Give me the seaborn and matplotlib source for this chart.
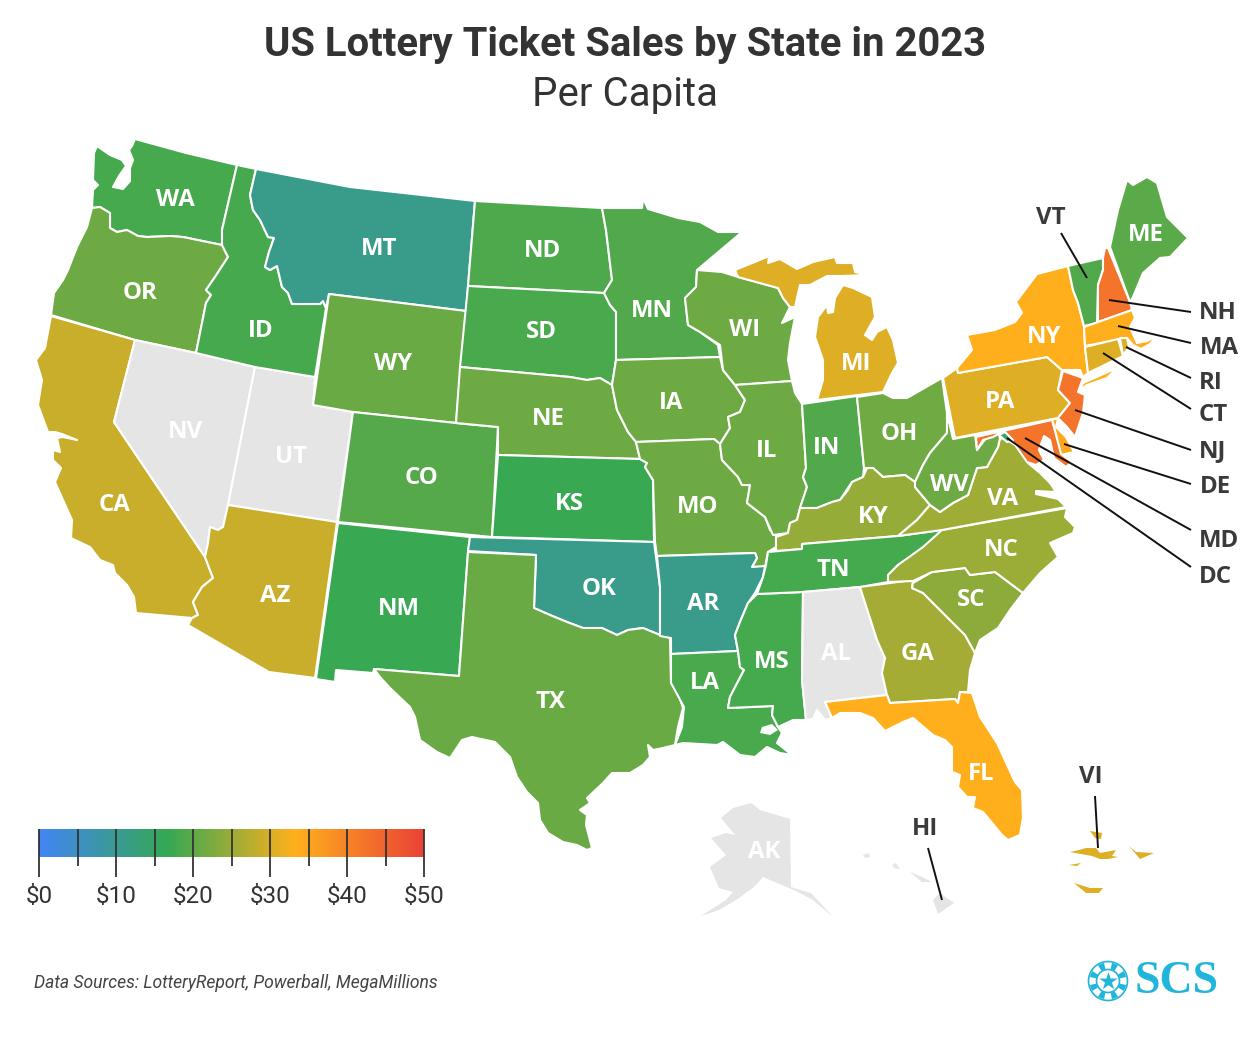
import numpy as np
import matplotlib
matplotlib.use("Agg")
import matplotlib.pyplot as plt
from matplotlib.patches import Polygon, Circle, Wedge
import seaborn as sns

sns.set_theme(style="white")
plt.rcParams['font.family'] = ['Roboto', 'DejaVu Sans']

# Per capita sales, read from the fill colours (nan = no data, drawn grey)
states = ["WA", "OR", "CA", "NV", "UT", "AZ", "ID", "MT", "WY", "CO", "NM", "ND", "SD", "NE", "KS", "OK", "TX",
          "MN", "IA", "MO", "AR", "LA", "WI", "IL", "MS", "MI", "IN", "OH", "KY", "TN", "AL", "GA", "FL", "SC",
          "NC", "VA", "WV", "PA", "NY", "VT", "NH", "ME", "MA", "CT", "RI", "NJ", "DE", "MD", "DC", "AK", "HI", "VI"]
sales = [18.2, 21.3, 28.8, np.nan, np.nan, 28.8, 18.2, 11, 21, 19.5, 17, 18.8, 18.5, 21.3, 17, 11, 21,
         19, 21.3, 21.3, 11, 18.5, 21.3, 21.3, 18, 30.5, 19, 21.5, 24.7, 18, np.nan, 25.8, 33.5, 24,
         25, 25.5, 21.3, 30.5, 33.5, 19, 42.4, 19.8, 33.5, 30.5, 30.5, 42.4, 34.5, 42.4, 14.5, np.nan, np.nan, 30.5]
scale_colors = ["#4285F4", "#34A853", "#FFB01C", "#EA4335"]
scale_ticks = [0, 5, 10, 15, 20, 25, 30, 35, 40, 45, 50]
scale_labels = {0: "$0", 10: "$10", 20: "$20", 30: "$30", 40: "$40", 50: "$50"}

# Outlines, in pixels
OUTLINES = {
    "WA": [[(135,139),(186,153),(237,165),(222,230),(222,245),(183,237),(170,236),(147,237),(138,236),(127,230),(117,232),(110,228),(110,213),(100,207),(92,208),(93,190),(98,185),(93,180),(94,153),(97,146),(110,155),(122,160),(126,166),(119,176),(113,187),(123,189),(130,181),(130,168),(133,160),(129,150),(132,146)]],
    "OR": [[(92,208),(100,207),(110,213),(110,228),(117,232),(127,230),(138,236),(147,237),(170,236),(183,237),(222,245),(228,257),(215,277),(206,290),(211,295),(206,303),(196,353),(135,340),(51,315),(54,293),(63,280),(68,270),(77,247),(87,227)]],
    "CA": [[(51,316),(135,340),(114,422),(205,557),(213,578),(202,587),(193,602),(198,615),(192,618),(136,613),(134,597),(127,585),(115,573),(113,565),(100,560),(90,547),(71,538),(72,520),(63,500),(55,482),(61,468),(53,460),(53,450),(60,452),(57,438),(63,437),(77,440),(62,434),(55,432),(48,432),(38,405),(42,380),(36,360),(45,348)]],
    "NV": [[(135,340),(196,353),(255,367),(228,505),(223,527),(218,530),(210,527),(208,543),(205,557),(114,422)]],
    "UT": [[(255,367),(315,377),(313,405),(353,412),(337,522),(228,505)]],
    "AZ": [[(228,505),(337,522),(315,678),(269,672),(188,625),(192,618),(198,615),(193,602),(202,587),(213,578),(205,557),(208,543),(210,527),(218,530),(223,527)]],
    "ID": [[(237,165),(256,169),(250,195),(253,210),(260,220),(268,237),(274,238),(269,252),(265,267),(270,270),(277,266),(282,287),(288,293),(292,304),(320,304),(323,301),(326,308),(315,377),(255,367),(196,353),(206,303),(211,295),(206,290),(215,277),(228,257),(222,245),(222,230)]],
    "MT": [[(256,169),(350,187),(475,201),(466,311),(329,294),(326,308),(323,301),(320,304),(292,304),(288,293),(282,287),(277,266),(270,270),(265,267),(269,252),(274,238),(268,237),(260,220),(253,210),(250,195)]],
    "WY": [[(329,294),(466,311),(456,423),(353,412),(313,405)]],
    "CO": [[(353,412),(456,423),(498,427),(492,537),(338,522)]],
    "NM": [[(338,523),(470,537),(468,552),(459,676),(374,669),(373,673),(336,670),(335,682),(316,679)]],
    "ND": [[(475,201),(602,208),(606,230),(612,280),(604,293),(468,286)]],
    "SD": [[(468,286),(604,293),(610,305),(616,312),(616,360),(612,385),(600,378),(587,380),(570,377),(460,367)]],
    "NE": [[(460,367),(570,377),(587,380),(600,378),(612,385),(617,410),(628,432),(636,442),(640,459),(498,455),(498,427),(456,423)]],
    "KS": [[(498,455),(640,459),(647,463),(645,467),(653,480),(654,542),(492,537)]],
    "OK": [[(470,537),(654,542),(660,587),(660,635),(643,628),(628,630),(617,635),(602,628),(583,628),(567,622),(550,615),(534,608),(536,555),(468,551)]],
    "TX": [[(468,552),(536,555),(534,608),(550,615),(567,622),(583,628),(602,628),(617,635),(628,630),(643,628),(660,635),(670,638),(671,682),(677,690),(683,708),(678,727),(675,745),(663,748),(653,750),(648,745),(650,757),(643,765),(630,773),(612,773),(603,783),(587,798),(590,803),(580,810),(587,815),(586,825),(592,848),(587,850),(577,845),(563,842),(548,833),(540,820),(538,803),(527,792),(517,777),(510,757),(495,742),(472,737),(462,740),(450,758),(437,752),(420,740),(415,717),(410,707),(390,688),(380,677),(374,669),(459,676)]],
    "MN": [[(602,208),(642,208),(643,198),(648,209),(678,218),(700,222),(718,232),(742,232),(697,270),(696,287),(685,298),(688,325),(700,332),(718,345),(720,357),(616,360),(616,312),(610,305),(604,293),(612,280),(606,230)]],
    "IA": [[(616,360),(720,357),(723,370),(735,385),(745,400),(740,412),(728,417),(730,428),(720,444),(714,439),(636,442),(628,432),(617,410),(612,385)]],
    "MO": [[(636,442),(714,439),(720,444),(722,460),(738,477),(742,485),(750,485),(747,503),(765,517),(770,530),(776,535),(776,547),(768,552),(765,567),(752,567),(757,558),(755,553),(657,556),(655,542),(653,480),(645,467),(647,463),(640,459)]],
    "AR": [[(657,556),(755,553),(757,558),(752,567),(765,566),(763,577),(755,593),(748,603),(740,622),(735,635),(738,651),(671,654),(671,638),(660,636),(660,587)]],
    "LA": [[(671,654),(738,651),(740,667),(744,670),(730,697),(728,708),(773,706),(772,715),(778,727),(782,733),(777,743),(792,755),(780,753),(767,747),(755,757),(740,755),(723,742),(717,745),(683,743),(675,745),(682,727),(684,707),(671,683)]],
    "WI": [[(697,270),(722,272),(738,277),(778,288),(783,298),(790,307),(782,323),(795,317),(790,343),(788,360),(792,381),(735,385),(723,370),(720,345),(700,332),(688,325),(685,298),(696,287)]],
    "IL": [[(735,385),(792,381),(795,393),(802,404),(806,468),(803,477),(807,487),(800,508),(797,520),(790,523),(788,533),(773,535),(765,517),(747,503),(750,485),(742,485),(738,477),(722,460),(720,444),(730,428),(728,417),(740,412),(745,400)]],
    "MS": [[(757,594),(803,592),(802,680),(806,720),(793,720),(778,727),(772,715),(773,706),(728,708),(730,697),(744,670),(740,667),(738,651),(735,635),(740,622),(748,603)]],
    "MI": [[(735,270),(767,257),(780,243),(770,252),(768,263),(780,259),(797,269),(813,262),(835,257),(837,263),(853,263),(855,272),(867,275),(843,276),(827,276),(810,285),(800,285),(795,307),(790,307),(783,298),(778,288),(738,277)],
           [(817,400),(883,392),(892,373),(898,363),(893,340),(887,327),(877,332),(872,340),(865,335),(875,317),(872,297),(853,288),(843,285),(835,298),(833,312),(828,313),(827,305),(818,317),(815,337),(823,360),(823,380)]],
    "IN": [[(802,404),(857,396),(864,468),(863,477),(852,482),(840,500),(832,502),(817,508),(800,508),(807,487),(803,477),(806,468)]],
    "OH": [[(857,397),(883,393),(893,398),(907,398),(942,378),(947,413),(947,433),(930,453),(923,465),(915,482),(905,475),(883,477),(873,468),(864,468)]],
    "KY": [[(776,537),(788,533),(790,523),(797,520),(800,508),(817,508),(832,502),(840,500),(848,490),(852,482),(863,477),(867,468),(873,468),(883,477),(905,475),(915,482),(915,487),(930,505),(917,520),(898,536),(802,544),(802,549),(776,551)]],
    "TN": [[(768,552),(802,549),(802,544),(898,536),(942,530),(935,543),(917,552),(898,565),(888,575),(888,582),(860,587),(803,592),(757,594),(763,577),(766,565)]],
    "AL": [[(803,592),(860,587),(877,640),(885,658),(882,673),(887,695),(825,702),(832,718),(825,720),(817,710),(813,719),(806,720),(802,680)]],
    "GA": [[(860,587),(913,580),(912,588),(923,593),(940,610),(965,635),(975,653),(970,670),(968,692),(960,692),(958,703),(955,699),(890,703),(887,695),(882,673),(885,658),(877,640)]],
    "FL": [[(825,702),(887,695),(890,703),(955,699),(958,703),(960,692),(972,693),(980,717),(997,743),(1015,782),(1022,790),(1023,818),(1020,835),(1008,840),(1002,835),(983,812),(973,808),(975,797),(967,797),(958,787),(960,775),(952,772),(952,747),(945,740),(933,735),(913,718),(903,722),(885,731),(873,718),(860,713),(840,713),(832,718)]],
    "SC": [[(913,583),(932,572),(965,568),(970,575),(995,572),(1023,593),(1010,610),(998,628),(980,640),(975,653),(965,635),(940,610),(923,593),(912,588)]],
    "NC": [[(888,582),(888,575),(898,565),(923,547),(942,530),(1067,508),(1065,517),(1075,527),(1073,533),(1050,543),(1058,557),(1040,573),(1023,593),(995,572),(970,575),(965,568),(932,572),(913,581)]],
    "VA": [[(898,536),(917,520),(930,505),(940,512),(953,503),(968,495),(977,468),(987,467),(998,447),(1000,438),(1007,440),(1023,450),(1028,463),(1040,473),(1050,483),(1056,492),(1036,491),(1036,494),(1058,499),(1066,507),(942,530)]],
    "WV": [[(915,487),(915,482),(923,465),(930,453),(947,433),(947,413),(953,439),(975,435),(977,450),(987,437),(998,432),(1000,438),(998,447),(987,467),(977,468),(968,495),(953,503),(940,512),(930,505)]],
    "PA": [[(943,378),(957,368),(958,373),(1047,357),(1062,370),(1058,390),(1070,403),(1058,418),(955,438)]],
    "NY": [[(958,373),(957,368),(972,350),(967,335),(995,330),(1015,322),(1022,313),(1016,302),(1037,274),(1068,266),(1073,290),(1078,303),(1084,327),(1085,347),(1088,373),(1083,377),(1080,370),(1062,370),(1047,357)],
           [(1083,383),(1117,368),(1107,378),(1087,385),(1080,390)]],
    "VT": [[(1068,266),(1103,258),(1103,270),(1098,285),(1097,323),(1084,326),(1078,303),(1073,290)]],
    "NH": [[(1105,248),(1108,248),(1130,302),(1132,310),(1098,322),(1098,285),(1103,270),(1103,258)]],
    "ME": [[(1110,247),(1118,210),(1127,180),(1133,185),(1147,177),(1157,183),(1167,217),(1180,230),(1188,238),(1170,257),(1160,258),(1143,273),(1133,297),(1130,302)]],
    "MA": [[(1084,327),(1132,310),(1135,318),(1130,327),(1137,343),(1147,341),(1157,336),(1150,344),(1141,349),(1133,345),(1127,338),(1085,346)]],
    "CT": [[(1085,347),(1118,339),(1123,356),(1088,373)]],
    "RI": [[(1120,338),(1127,338),(1129,347),(1123,355)]],
    "NJ": [[(1063,371),(1083,378),(1078,392),(1085,395),(1083,413),(1075,437),(1067,427),(1058,418),(1070,403),(1058,390)]],
    "DE": [[(1052,419),(1058,419),(1056,427),(1066,437),(1074,452),(1061,455)]],
    "MD": [[(976,437),(1052,420),(1061,454),(1072,462),(1066,467),(1054,458),(1050,440),(1044,436),(1039,450),(1044,460),(1036,465),(1027,462),(1013,442),(1000,433),(993,437),(983,440),(977,450)]],
    "DC": [[(999,435),(1005,432),(1013,440),(1007,442)]],
    "AK": [[(751,803),(760,810),(790,819),(791,887),(794,888),(811,893),(833,917),(813,900),(794,890),(770,880),(763,877),(754,887),(736,900),(719,910),(701,916),(726,900),(733,892),(719,888),(710,867),(726,855),(711,838),(726,833),(735,835),(721,818),(733,808)]],
    "HI": [[(933,900),(940,893),(954,903),(938,914)],[(910,872),(922,877),(932,882),(922,882)],[(892,865),(896,863),(900,869),(894,868)],[(863,855),(869,853),(870,857),(865,858)]],
    "VI": [[(1070,852),(1079,850),(1086,848),(1096,848),(1100,853),(1116,850),(1112,856),(1118,857),(1108,859),(1100,859),(1092,856)],[(1090,831),(1102,833),(1101,839),(1095,838)],[(1129,846),(1136,852),(1154,853),(1140,859)],[(1069,865),(1081,863),(1077,866)],[(1074,883),(1090,888),(1103,888),(1099,893),(1086,893)]],
}
LAKE = [(762,727),(772,724),(778,730),(770,735),(760,733)]

# state label centres
inner_labels = {"WA":(175,198),"OR":(140,291),"CA":(114,503),"NV":(185,430),"UT":(291,455),"AZ":(275,594),"ID":(261,329),
                "MT":(379,247),"WY":(393,362),"CO":(421,476),"NM":(399,607),"ND":(543,249),"SD":(541,330),"NE":(548,417),
                "KS":(569,502),"OK":(599,587),"TX":(551,700),"MN":(652,309),"IA":(671,401),"MO":(698,505),"AR":(703,602),
                "LA":(705,681),"WI":(745,328),"IL":(767,449),"MS":(772,660),"MI":(856,362),"IN":(827,446),"OH":(899,432),
                "KY":(873,515),"TN":(833,568),"AL":(836,652),"GA":(917,652),"FL":(981,772),"SC":(971,598),"NC":(1001,548),
                "VA":(1003,497),"WV":(949,483),"PA":(1000,400),"NY":(1044,335),"ME":(1146,233),"AK":(764,850)}
# callouts: label centre, line start, line end
outer_labels = {"VT":((1051,216),(1061,233),(1087,278)),"NH":((1218,311),(1191,312),(1109,300)),"MA":((1219,346),(1191,343),(1118,326)),
                "RI":((1211,381),(1191,378),(1126,347)),"CT":((1213,413),(1191,409),(1103,353)),"NJ":((1213,449),(1191,450),(1075,410)),
                "DE":((1215,485),(1191,484),(1064,444)),"MD":((1219,539),(1191,530),(1025,438)),"DC":((1215,575),(1191,567),(1007,438)),
                "HI":((925,827),(928,848),(942,900)),"VI":((1091,775),(1095,796),(1098,848))}

cmap = sns.blend_palette(scale_colors, as_cmap=True)
norm = plt.Normalize(0, 50)

fig = plt.figure(figsize=(12.5, 10.48), dpi=100, facecolor="white")
ax = fig.add_axes([0, 0, 1, 1])
ax.set_xlim(0, 1250)
ax.set_ylim(1048, 0)
ax.axis("off")

for abbr, val in zip(states, sales):
    color = "#E5E5E5" if np.isnan(val) else cmap(norm(val))
    for part in OUTLINES[abbr]:
        edge = "none" if abbr in ("HI", "VI", "AK") else "white"
        ax.add_patch(Polygon(part, closed=True, facecolor=color, edgecolor=edge, linewidth=1.5, joinstyle="round"))
ax.add_patch(Polygon(LAKE, closed=True, facecolor="white", edgecolor="none"))

for abbr, (x, y) in inner_labels.items():
    ax.text(x, y + 2, abbr, color="white", fontsize=17.3, fontweight="bold", family="Open Sans", ha="center", va="center")
for abbr, (pos, start, end) in outer_labels.items():
    ax.plot([start[0], end[0]], [start[1], end[1]], color="#111111", lw=1.4, solid_capstyle="butt")
    ax.text(pos[0], pos[1] + 2, abbr, color="#3A3A3A", fontsize=17.3, fontweight="bold", family="Open Sans", ha="center", va="center")

ax.text(625, 45, "US Lottery Ticket Sales by State in 2023", color="#333333", fontsize=28.8, fontweight="bold", ha="center", va="center")
ax.text(625, 94, "Per Capita", color="#333333", fontsize=29, fontweight="normal", ha="center", va="center")
ax.text(34, 983, "Data Sources: LotteryReport, Powerball, MegaMillions", color="#444444", fontsize=12.65, style="italic", ha="left", va="center")

# colour scale
cax = fig.add_axes([39 / 1250, 1 - 857 / 1048, 385 / 1250, 28 / 1048])
gradient = np.linspace(0, 50, 385).reshape(1, -1)
sns.heatmap(gradient, cmap=cmap, vmin=0, vmax=50, cbar=False, xticklabels=False, yticklabels=False, ax=cax, rasterized=True)
for t in scale_ticks:
    x = t / 50 * 385
    bottom = 1.72 if t in scale_labels else 1.32
    cax.plot([x, x], [0, bottom], color="#333333", lw=1.3, clip_on=False, solid_capstyle="butt")
    if t in scale_labels:
        cax.text(x, 2.42, scale_labels[t], color="#333333", fontsize=17.5, fontweight="normal", ha="center", va="center", clip_on=False)

# SCS logo
logo_blue = "#21B5DB"
ax.add_patch(Circle((1108, 981), 19.5, facecolor="none", edgecolor=logo_blue, lw=1.2))
ax.add_patch(Circle((1108, 981), 11.5, facecolor="none", edgecolor=logo_blue, lw=1.2))
for start in range(0, 360, 45):
    ax.add_patch(Wedge((1108, 981), 18.5, start + 22.5 - 10, start + 22.5 + 10, width=6.5, facecolor=logo_blue, edgecolor="none"))
ax.scatter([1108], [981], marker="*", s=190, color=logo_blue, linewidths=0)
ax.text(1177, 982, "SCS", color=logo_blue, fontsize=33, fontweight="bold", family="Liberation Serif", ha="center", va="center")

fig.savefig("out.png", dpi=100, facecolor="white")
